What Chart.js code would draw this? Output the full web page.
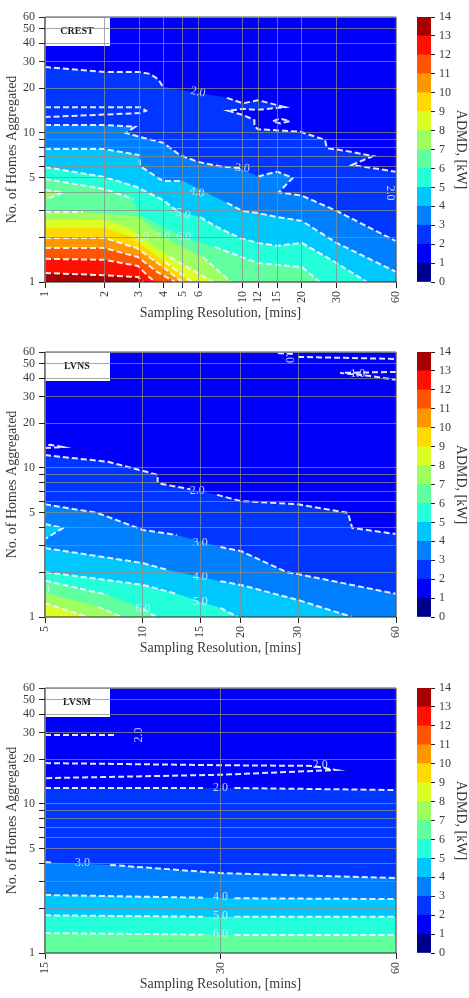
<!DOCTYPE html>
<html>
<head>
<meta charset="utf-8">
<title>ADMD contours</title>
<script src="https://cdn.jsdelivr.net/npm/chart.js@4"></script>
<style>
   html, body { margin: 0; padding: 0; background: #fff; overflow: hidden; }
   canvas { position: absolute; }
</style>
</head>
<body>
<canvas id="crestPlot" width="410" height="326" style="left:0;top:0"></canvas>
<canvas id="crestBar" width="64" height="326" style="left:405px;top:0"></canvas>
<canvas id="lvnsPlot" width="410" height="326" style="left:0;top:335px"></canvas>
<canvas id="lvnsBar" width="64" height="326" style="left:405px;top:335px"></canvas>
<canvas id="lvsmPlot" width="410" height="326" style="left:0;top:671px"></canvas>
<canvas id="lvsmBar" width="64" height="326" style="left:405px;top:671px"></canvas>
<script>
// band colours, one per kW step of the colour bar
const bandColors = ['#00008f', '#0000fa', '#0036ff', '#0080ff', '#00c8ff', '#24ffda', '#61ff9e',
   '#9eff61', '#daff24', '#ffda00', '#ff9700', '#ff5400', '#ff1000', '#a80000'];
const barTicks = [0, 1, 2, 3, 4, 5, 6, 7, 8, 9, 10, 11, 12, 13, 14];

const homeTicks = [1, 2, 3, 4, 5, 6, 7, 8, 9, 10, 20, 30, 40, 50, 60];
const homeTickLabels = [1, 5, 10, 20, 30, 40, 50, 60];

const crestMinutes = [1, 2, 3, 4, 5, 6, 10, 12, 15, 20, 30, 60];
const lvnsMinutes = [5, 10, 15, 20, 30, 60];
const lvsmMinutes = [15, 30, 60];

// contour points as [minutes, homes]; null leaves a hole in the dashes
const crestLevel2 = [[1, 27.7], [2, 25.7], [3, 25.7], [3.4, 24.9], [3.74, 23], [3.96, 20.4], null, [8.36, 17.2], [10.07, 15.8], [12, 16.6], [16.4, 14.9], [12, 14.3], [10.07, 14.5], [8.45, 14.1], [10.07, 13.2], [10.9, 12.6], [11.5, 12.2], [11.5, 11.1], [12, 10.6], [19.6, 10.2], [26.2, 9], [26.8, 7.9], [33.1, 7.6], [45.9, 7], [35.9, 6.1], [60, 5.5]];
const crestLevel3 = [[1, 11.3], [2, 11.3], [2.86, 11], [2.57, 10], [3.03, 9.4], [3.96, 8.6], [4.83, 7.1], [5.96, 6.4], [7.52, 6], [9.73, 5.8], null, [12, 5.1], [15, 5.5], [18, 5], [15.3, 4], [20, 3.8], [30, 3], [60, 1.88]];
const crestLevel4 = [[1, 7.8], [2, 7.8], [3, 7.1], [3.03, 6], [3.96, 4.76], [5, 4.76], null, [8.36, 3.39], [10, 3], [12, 2.9], [15, 2.73], [20, 2.57], [30, 1.83], [60, 1.17]];
const crestLevel5 = [[1, 5.9], [2, 5.07], [2.92, 4.34], [3.96, 3.55], [4.66, 3], null, [6.1, 2.73], [7.43, 2.34], [9.73, 1.97], [12, 1.83], [15, 1.75], [20, 1.83], [30, 1.34], [42.8, 1]];
const crestLevel6 = [[1, 4.91], [2, 4.21], [2.79, 3.61], null, [3.03, 2.82], null, [5, 2], null, [7.26, 1.72], [8.65, 1.57], [12, 1.34], [20, 1.26], [24.7, 1]];
const crestLevel7 = [[1, 2.95], [1.56, 2.95], null, [3, 2.73], null, [3.96, 2], null, [6.31, 1.47], [8.75, 1]];
const crestLevel8 = [[1, 2.61], null, [2, 2.61], null, [2.7, 2.3], null, [3.06, 2], null, [4.3, 1.47], [7.1, 1]];
const crestLevel9 = [[1, 2.3], null, [2, 2.3], null, [2.86, 1.97], null, [3.1, 1.77], null, [4.06, 1.36], [5.55, 1]];
const crestLevel10 = [[1, 1.97], [2, 1.97], [2.92, 1.69], [3.96, 1.26], [4.95, 1]];
const crestLevel11 = [[1, 1.69], [2, 1.69], [2.96, 1.47], [3.69, 1.17], [4.56, 1]];
const crestLevel12 = [[1, 1.43], [2, 1.41], [2.96, 1.28], [3.29, 1.11], [3.61, 1]];
const crestLevel13 = [[1, 1.15], [2, 1.11], [2.96, 1.08], [3.14, 1]];
const crestPocket7 = [[1, 4.14], [1.23, 4], [1, 3.55]];
const crestSliver = [[1, 14.9], [3.03, 14.9], [3.25, 14.1], [3.03, 13.6], [1, 12.8]];
const crestIsland = [[14.3, 12], [15.5, 12.5], [17.4, 12], [15.5, 11.6], [14.3, 12]];

const lvnsLevel2 = [[5, 12.2], [7.81, 11], [11.1, 9], [11.1, 7.9], [14, 7.2], null, [16.9, 6.6], [20, 6], [30, 5.7], [42.7, 5], [44, 3.96], [60, 3.6]];
const lvnsLevel3 = [[5, 5.7], [7.23, 5], [10, 3.84], [12.7, 3.55], null, [17.3, 2.95], [20, 2.77], [27.7, 2], [30, 1.94], [60, 1.43]];
const lvnsLevel4 = [[5, 2.9], [10, 2.3], [11.9, 2.07], null, [17.3, 1.74], [20, 1.64], [30, 1.3], [44, 1]];
const lvnsLevel5 = [[5, 2], [7.76, 1.77], [10, 1.64], [12.7, 1.43], null, [17.3, 1.15], [19.6, 1]];
const lvnsLevel6 = [[5, 1.75], [7.76, 1.41], null, [10, 1.13], [11, 1]];
const lvnsLevel7 = [[5, 1.45], null, [7.28, 1.17], [8.63, 1]];
const lvnsLevel8 = [[5, 1.24], [6.78, 1]];
const lvnsPocket4 = [[5, 4.21], [5.68, 3.96], [5, 3.34]];
const lvnsSliver = [[5, 13.6], [5.68, 13.8], [5.18, 14.3], [5, 14.1]];
const lvnsTopLine = [[26, 59], [29, 58.2], null, [30, 55.6], [60, 53.9]];
const lvnsHairpin = [[60, 44.1], [40.4, 43.4], [50, 41.4], [60, 39]];

const lvsmLevel2 = [[15, 12.8], [28, 12.8], null, [31.7, 12.8], [60, 12.4]];
const lvsmLevel3 = [[15, 4.08], [15.4, 4.05], null, [19.4, 3.9], [30, 3.44], [60, 3.19]];
const lvsmLevel4 = [[15, 2.45], [28, 2.35], null, [31.7, 2.33], [60, 2.3]];
const lvsmLevel5 = [[15, 1.79], [28, 1.75], null, [31.7, 1.75], [60, 1.75]];
const lvsmLevel6 = [[15, 1.36], [28, 1.33], null, [31.7, 1.32], [60, 1.32]];
const lvsmShortLine = [[15, 29], [19.8, 29]];
const lvsmHairpin = [[15, 18.8], [30, 18.2], [43.2, 18], [47.4, 16.9], [30, 15.7], [15, 14.9]];

// inline contour labels: text, anchor [minutes, homes], angle in degrees
const crestLabelText = ['2.0', '3.0', '4.0', '5.0', '6.0', '7.0', '8.0', '2.0'];
const crestLabelAt = [[5.96, 18.8], [10, 5.8], [5.88, 4], [5, 2.86], [5.05, 2], [3.96, 2], [3.1, 1.97], [56, 3.96]];
const crestLabelAngle = [12, 5, 10, 15, 0, -5, -15, 90];

const lvnsLabelText = ['2.0', '3.0', '4.0', '5.0', '6.0', '7.0', '1.0', '1.0'];
const lvnsLabelAt = [[14.7, 7], [15, 3.14], [15, 1.85], [15, 1.26], [10, 1.13], [4.9, 1.52], [28.1, 56.9], [45.8, 42.8]];
const lvnsLabelAngle = [0, 0, 0, 0, 0, 0, 90, 0];

const lvsmLabelText = ['2.0', '2.0', '2.0', '3.0', '4.0', '5.0', '6.0'];
const lvsmLabelAt = [[21.7, 29], [44.5, 18.2], [30, 12.8], [17.4, 4.02], [30, 2.38], [30, 1.77], [30, 1.34]];
const lvsmLabelAngle = [-90, 0, 0, 0, 0, 0, 0];

const serif = 'Liberation Serif';
const textColor = '#3a3a3a';
const dashColor = 'rgba(240,244,255,0.95)';

function toPoints(list) {
   return list.map(p => p ? {x: p[0], y: p[1]} : {x: null, y: null});
}

function fillDataset(list, color, order) {
   return {
      data: toPoints(list),
      showLine: true,
      fill: 'shape',
      backgroundColor: color,
      borderWidth: 0,
      pointRadius: 0,
      order: order
   };
}

function lineDataset(list) {
   return {
      data: toPoints(list),
      showLine: true,
      fill: false,
      borderColor: dashColor,
      borderWidth: 2,
      borderDash: [6, 3],
      pointRadius: 0,
      order: 0
   };
}

// each level fills everything below its contour, painted lowest level first
function buildDatasets(xMin, levels, pockets, extraLines) {
   const datasets = [];
   const frame = [[xMin, 60], [60, 60], [60, 1], [xMin, 1]];
   datasets.push(fillDataset(frame, bandColors[1], 100));
   levels.forEach((level, i) => {
      const outline = level.filter(Boolean).concat([[60, 1], [xMin, 1]]);
      datasets.push(fillDataset(outline, bandColors[i + 2], 99 - i));
      datasets.push(lineDataset(level));
   });
   pockets.forEach(pocket => {
      datasets.push(fillDataset(pocket.points, bandColors[pocket.band], 50));
      datasets.push(lineDataset(pocket.points));
   });
   extraLines.forEach(line => datasets.push(lineDataset(line)));
   return datasets;
}

function panelPlugin(name, labelText, labelAt, labelAngle) {
   return {
      id: 'panel' + name,
      afterDatasetsDraw(chart) {
         const ctx = chart.ctx;
         const area = chart.chartArea;
         const xScale = chart.scales.x;
         const yScale = chart.scales.y;

         ctx.save();
         ctx.beginPath();
         ctx.rect(area.left, area.top, area.width, area.height);
         ctx.clip();
         ctx.font = '12px "' + serif + '"';
         ctx.fillStyle = 'rgba(226,236,255,0.85)';
         ctx.textAlign = 'center';
         ctx.textBaseline = 'middle';
         labelText.forEach((text, i) => {
            ctx.save();
            ctx.translate(xScale.getPixelForValue(labelAt[i][0]), yScale.getPixelForValue(labelAt[i][1]));
            ctx.rotate(labelAngle[i] * Math.PI / 180);
            ctx.fillText(text, 0, 0);
            ctx.restore();
         });
         ctx.restore();

         // name box in the top left corner
         ctx.save();
         ctx.fillStyle = '#fff';
         ctx.fillRect(area.left, area.top, 65, 29);
         ctx.fillStyle = '#1a1a1a';
         ctx.font = 'bold 10px "' + serif + '"';
         ctx.textAlign = 'center';
         ctx.textBaseline = 'middle';
         ctx.fillText(name, area.left + 32, area.top + 14);

         ctx.strokeStyle = '#555';
         ctx.lineWidth = 1;
         ctx.beginPath();
         ctx.moveTo(area.left, area.top);
         ctx.lineTo(area.right, area.top);
         ctx.lineTo(area.right, area.bottom);
         ctx.stroke();
         ctx.strokeStyle = '#222';
         ctx.lineWidth = 1.2;
         ctx.beginPath();
         ctx.moveTo(area.left, area.top);
         ctx.lineTo(area.left, area.bottom);
         ctx.lineTo(area.right, area.bottom);
         ctx.stroke();
         ctx.restore();
      }
   };
}

function drawPlot(canvasId, name, xTicks, datasets, labelText, labelAt, labelAngle) {
   return new Chart(document.getElementById(canvasId), {
      type: 'scatter',
      data: {datasets: datasets},
      plugins: [panelPlugin(name, labelText, labelAt, labelAngle)],
      options: {
         responsive: false,
         animation: false,
         events: [],
         layout: {padding: {top: 17, right: 14, left: 0, bottom: 0}},
         plugins: {legend: {display: false}, tooltip: {enabled: false}},
         scales: {
            x: {
               type: 'logarithmic',
               min: xTicks[0],
               max: 60,
               afterBuildTicks(scale) {
                  scale.ticks = xTicks.map(v => ({value: v}));
               },
               afterFit(scale) {
                  // keep the rotated end labels from shrinking the plot
                  scale.height = 44;
                  scale.paddingLeft = 0;
                  scale.paddingRight = 0;
               },
               grid: {z: 1, color: 'rgba(140,140,140,0.75)', lineWidth: 1, tickColor: '#222', tickLength: 6},
               border: {display: false},
               ticks: {
                  autoSkip: false,
                  minRotation: 90,
                  maxRotation: 90,
                  padding: 3,
                  color: textColor,
                  font: {family: serif, size: 12},
                  callback: value => String(value)
               },
               title: {
                  display: true,
                  text: 'Sampling Resolution, [mins]',
                  color: textColor,
                  font: {family: serif, size: 14}
               }
            },
            y: {
               type: 'logarithmic',
               min: 1,
               max: 60,
               afterBuildTicks(scale) {
                  scale.ticks = homeTicks.map(v => ({value: v}));
               },
               afterFit(scale) {
                  scale.width = 45;
               },
               grid: {z: 1, color: 'rgba(140,140,140,0.75)', lineWidth: 1, tickColor: '#222', tickLength: 6},
               border: {display: false},
               ticks: {
                  autoSkip: false,
                  padding: 4,
                  color: textColor,
                  font: {family: serif, size: 12},
                  callback: value => homeTickLabels.includes(value) ? String(value) : ''
               },
               title: {
                  display: true,
                  text: 'No. of Homes Aggregated',
                  color: textColor,
                  font: {family: serif, size: 14}
               }
            }
         }
      }
   });
}

function drawColorBar(canvasId) {
   return new Chart(document.getElementById(canvasId), {
      type: 'bar',
      data: {
         labels: ['ADMD'],
         datasets: bandColors.map((color, i) => ({
            data: [[barTicks[i], barTicks[i + 1]]],
            backgroundColor: color,
            borderWidth: 0,
            categoryPercentage: 1,
            barPercentage: 1
         }))
      },
      options: {
         responsive: false,
         animation: false,
         events: [],
         layout: {padding: {top: 17, left: 12, right: 0, bottom: 44}},
         plugins: {legend: {display: false}, tooltip: {enabled: false}},
         scales: {
            x: {display: false, stacked: true},
            y: {
               position: 'right',
               min: 0,
               max: 14,
               afterBuildTicks(scale) {
                  scale.ticks = barTicks.map(v => ({value: v}));
               },
               afterFit(scale) {
                  scale.width = 38;
               },
               grid: {drawOnChartArea: false, tickColor: '#222', tickLength: 4},
               border: {display: false},
               ticks: {
                  autoSkip: false,
                  padding: 4,
                  color: textColor,
                  font: {family: serif, size: 12}
               },
               title: {
                  display: true,
                  text: 'ADMD, [kW]',
                  color: textColor,
                  padding: 0,
                  font: {family: serif, size: 14}
               }
            }
         }
      }
   });
}

drawPlot('crestPlot', 'CREST', crestMinutes,
   buildDatasets(1,
      [crestLevel2, crestLevel3, crestLevel4, crestLevel5, crestLevel6, crestLevel7, crestLevel8,
         crestLevel9, crestLevel10, crestLevel11, crestLevel12, crestLevel13],
      [{points: crestPocket7, band: 7}],
      [crestSliver, crestIsland]),
   crestLabelText, crestLabelAt, crestLabelAngle);

drawPlot('lvnsPlot', 'LVNS', lvnsMinutes,
   buildDatasets(5,
      [lvnsLevel2, lvnsLevel3, lvnsLevel4, lvnsLevel5, lvnsLevel6, lvnsLevel7, lvnsLevel8],
      [{points: lvnsPocket4, band: 4}],
      [lvnsSliver, lvnsTopLine, lvnsHairpin]),
   lvnsLabelText, lvnsLabelAt, lvnsLabelAngle);

drawPlot('lvsmPlot', 'LVSM', lvsmMinutes,
   buildDatasets(15,
      [lvsmLevel2, lvsmLevel3, lvsmLevel4, lvsmLevel5, lvsmLevel6],
      [],
      [lvsmShortLine, lvsmHairpin]),
   lvsmLabelText, lvsmLabelAt, lvsmLabelAngle);

drawColorBar('crestBar');
drawColorBar('lvnsBar');
drawColorBar('lvsmBar');
</script>
</body>
</html>
